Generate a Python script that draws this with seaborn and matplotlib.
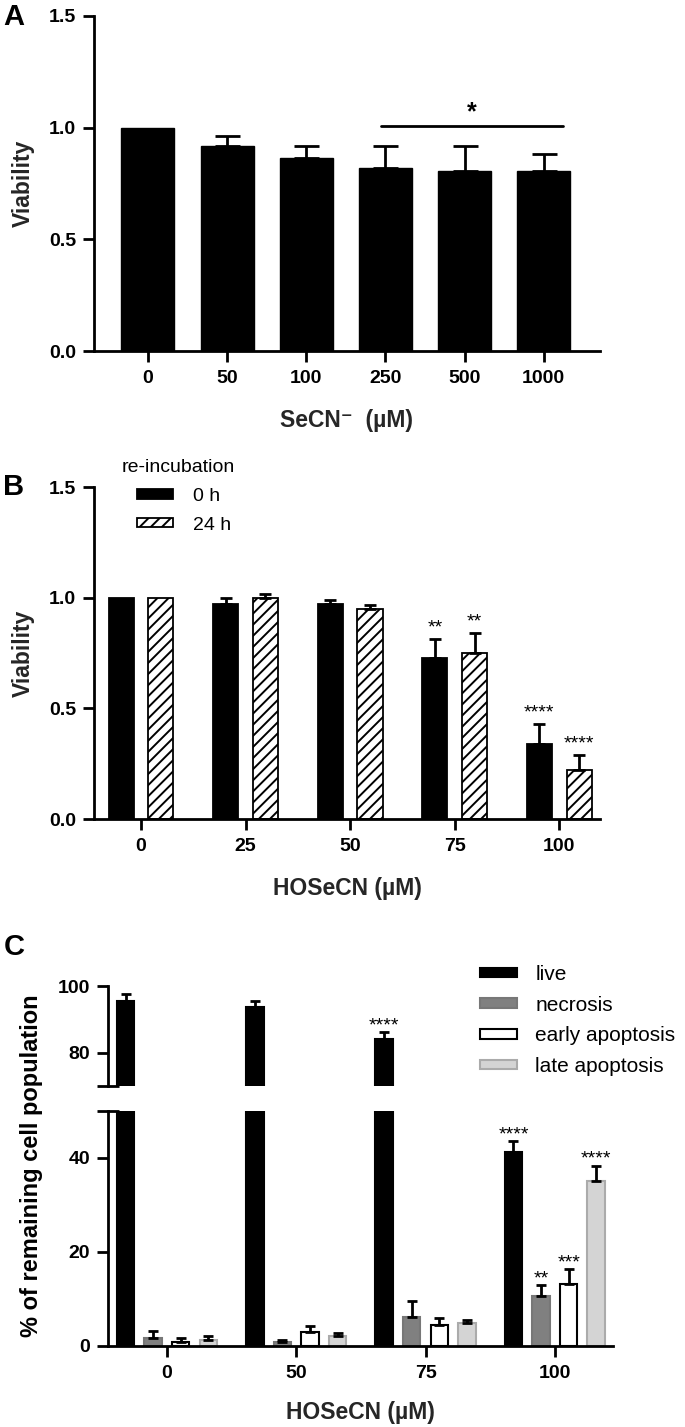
import numpy as np
import pandas as pd
import seaborn as sns
import matplotlib.pyplot as plt

# ---- data ----
# A: SeCN- viability
conc_a = ["0", "50", "100", "250", "500", "1000"]
viab_a = [1.0, 0.919, 0.862, 0.819, 0.808, 0.808]
err_a = [0.0, 0.044, 0.057, 0.099, 0.110, 0.074]

# B: HOSeCN viability, 0 h / 24 h re-incubation
conc_b = ["0", "25", "50", "75", "100"]
times_b = ["0 h", "24 h"]
viab_b_0h = [1.0, 0.970, 0.970, 0.729, 0.339]
err_b_0h = [0.0, 0.030, 0.021, 0.085, 0.090]
stars_b_0h = ["", "", "", "**", "****"]
viab_b_24h = [1.0, 1.0, 0.948, 0.748, 0.223]
err_b_24h = [0.0, 0.015, 0.019, 0.093, 0.065]
stars_b_24h = ["", "", "", "**", "****"]

# C: cell population
conc_c = ["0", "50", "75", "100"]
states_c = ["live", "necrosis", "early apoptosis", "late apoptosis"]
live = [95.5, 93.8, 84.0, 41.2]
live_err = [2.0, 1.8, 2.2, 2.4]
live_stars = ["", "", "****", "****"]
necrosis = [1.8, 0.8, 6.1, 10.7]
necrosis_err = [1.3, 0.5, 3.4, 2.3]
necrosis_stars = ["", "", "", "**"]
early = [0.9, 2.9, 4.5, 13.1]
early_err = [0.9, 1.3, 1.4, 3.3]
early_stars = ["", "", "", "***"]
late = [1.3, 2.1, 4.8, 35.1]
late_err = [0.8, 0.6, 0.8, 3.3]
late_stars = ["", "", "", "****"]

W, H = 685, 1427
sns.set_style("ticks", {"axes.edgecolor": "black", "xtick.color": "black",
                        "ytick.color": "black", "text.color": "black"})
plt.rcParams["font.family"] = ["Liberation Sans", "DejaVu Sans"]
plt.rcParams["axes.linewidth"] = 2
plt.rcParams["hatch.linewidth"] = 1.4

fig = plt.figure(figsize=(W / 100, H / 100), dpi=100)


def box(left, top, right, bottom):
    return fig.add_axes([left / W, 1 - bottom / H, (right - left) / W, (bottom - top) / H])


def style(ax):
    ax.tick_params(direction="out", length=8, width=2, labelsize=14, colors="black")
    ax.tick_params(axis="x", pad=6)
    ax.tick_params(axis="y", pad=5)
    for t in ax.get_xticklabels() + ax.get_yticklabels():
        t.set_fontweight("bold")


def add_errors(ax, bars, err, lw=2, cap=4):
    xs = np.array([p.get_x() + p.get_width() / 2 for p in bars.patches])
    ys = np.array([p.get_height() for p in bars.patches])
    err = np.array(err)
    m = err > 0
    ax.errorbar(xs[m], ys[m], yerr=[np.zeros(m.sum()), err[m]], fmt="none",
                ecolor="black", elinewidth=lw, capsize=cap, capthick=lw)
    return xs, ys + err


def add_stars(ax, xs, tops, stars, off, size=14):
    for x, y, s in zip(xs, tops, stars):
        if s:
            ax.annotate(s, (x, y), xytext=(0, off), textcoords="offset points",
                        ha="center", va="center", fontsize=size)


# ---------------- A ----------------
axA = box(94, 16, 600, 351)
dfA = pd.DataFrame({"conc": conc_a, "viability": viab_a})
sns.barplot(data=dfA, x="conc", y="viability", order=conc_a, color="black",
            saturation=1, width=0.67, errorbar=None, edgecolor="black", ax=axA)
xsA, topsA = add_errors(axA, axA.containers[0], err_a, lw=2, cap=9)
axA.set_xlim(-0.68, 5.71)
axA.set_ylim(0, 1.5)
axA.set_yticks([0, 0.5, 1.0, 1.5])
axA.set_yticklabels([f"{v:.1f}" for v in [0, 0.5, 1.0, 1.5]])
sns.despine(ax=axA)
style(axA)
# significance bar over 250-1000
sig_y = 1.007
sig_l, sig_r = xsA[3] - 0.06, xsA[5] + 0.24
axA.plot([sig_l, sig_r], [sig_y, sig_y], color="black", lw=2)
axA.annotate("*", ((sig_l + sig_r) / 2, sig_y), xytext=(0, 10),
             textcoords="offset points", ha="center", va="center",
             fontsize=18, fontweight="bold")
axA.set_ylabel("Viability", fontsize=16.5, fontweight="bold", va="center")
axA.yaxis.set_label_coords((23 - 94) / 506, 0.5)
axA.set_xlabel("SeCN\u207b  (\u00b5M)", fontsize=16.5, fontweight="bold", va="center")
axA.xaxis.set_label_coords(0.5, (351 - 420) / 335)

# ---------------- B ----------------
axB = box(94, 487, 600, 819)
dfB = pd.DataFrame({
    "conc": conc_b * 2,
    "time": [times_b[0]] * len(conc_b) + [times_b[1]] * len(conc_b),
    "viability": viab_b_0h + viab_b_24h,
})
sns.barplot(data=dfB, x="conc", y="viability", hue="time", order=conc_b,
            hue_order=times_b, palette={"0 h": "black", "24 h": "white"},
            saturation=1, width=0.76, gap=0.37, errorbar=None,
            edgecolor="black", linewidth=1.3, legend=False, ax=axB)
barsB = list(axB.containers)
for p in barsB[1].patches:
    p.set_hatch("///")
for bars, err, stars in zip(barsB, [err_b_0h, err_b_24h], [stars_b_0h, stars_b_24h]):
    xs, tops = add_errors(axB, bars, err, lw=2, cap=4)
    add_stars(axB, xs, tops, stars, off=8)
axB.set_xlim(-0.45, 4.39)
axB.set_ylim(0, 1.5)
axB.set_yticks([0, 0.5, 1.0, 1.5])
axB.set_yticklabels([f"{v:.1f}" for v in [0, 0.5, 1.0, 1.5]])
sns.despine(ax=axB)
style(axB)
axB.set_ylabel("Viability", fontsize=16.5, fontweight="bold", va="center")
axB.yaxis.set_label_coords((23 - 94) / 506, 0.5)
axB.set_xlabel("HOSeCN (\u00b5M)", fontsize=16.5, fontweight="bold", va="center")
axB.xaxis.set_label_coords(0.5, (819 - 888) / 332)
axB.legend([b.patches[0] for b in barsB], times_b, loc="upper left",
           bbox_to_anchor=(137 / W, 1 - 488 / H), bbox_transform=fig.transFigure,
           frameon=False, fontsize=14, handlelength=1.86, handleheight=0.34,
           handletextpad=1.0, labelspacing=0.6, borderpad=0, borderaxespad=0)
fig.text(122 / W, 1 - 468 / H, "re-incubation", fontsize=14, ha="left", va="center")

# ---------------- C (broken y axis) ----------------
axCu = box(108, 986, 613, 1086)
axCl = box(108, 1111, 613, 1346)
dfC = pd.DataFrame({
    "conc": conc_c * 4,
    "state": sum([[s] * len(conc_c) for s in states_c], []),
    "pct": live + necrosis + early + late,
})
fills = {"live": "black", "necrosis": "#808080", "early apoptosis": "white",
         "late apoptosis": "#d4d4d4"}
edges = ["black", "#777777", "black", "#ababab"]
errs_c = [live_err, necrosis_err, early_err, late_err]
stars_c = [live_stars, necrosis_stars, early_stars, late_stars]
barsC = None
for ax, (lo, hi) in [(axCu, (70, 100)), (axCl, (0, 50))]:
    sns.barplot(data=dfC, x="conc", y="pct", hue="state", order=conc_c,
                hue_order=states_c, palette=fills, saturation=1, width=0.853,
                gap=0.366, errorbar=None, linewidth=1.5, legend=False, ax=ax)
    bars_ax = list(ax.containers)
    for bars, ec, err, stars in zip(bars_ax, edges, errs_c, stars_c):
        for p in bars.patches:
            p.set_edgecolor(ec)
        xs, tops = add_errors(ax, bars, err, lw=2, cap=3.3)
        sel = [s if lo <= t <= hi else "" for s, t in zip(stars, tops)]
        add_stars(ax, xs, tops, sel, off=4.5)
    ax.set_xlim(-0.456, 3.45)
    barsC = bars_ax

axCu.set_ylim(70, 100)
axCu.set_yticks([80, 100])
axCu.set_yticks([70], minor=True)
sns.despine(ax=axCu, bottom=True)
axCu.tick_params(axis="x", bottom=False, labelbottom=False)
style(axCu)
axCu.tick_params(axis="y", which="minor", direction="inout", length=16, width=2)

axCl.set_ylim(0, 50)
axCl.set_yticks([0, 20, 40])
axCl.set_yticks([50], minor=True)
sns.despine(ax=axCl)
style(axCl)
axCl.tick_params(axis="y", which="minor", direction="inout", length=16, width=2)
axCl.set_ylabel("")
axCu.set_ylabel("")
axCu.set_xlabel("")
axCl.set_xlabel("HOSeCN (\u00b5M)", fontsize=16.5, fontweight="bold", va="center")
axCl.xaxis.set_label_coords(0.5, (1346 - 1412) / 235)
fig.text(32 / W, 1 - 1166 / H, "% of remaining cell population", rotation=90,
         fontsize=17, fontweight="bold", ha="center", va="center")
axCl.legend([b.patches[0] for b in barsC], states_c, loc="upper left",
            bbox_to_anchor=(480 / W, 1 - 965 / H), bbox_transform=fig.transFigure,
            frameon=False, fontsize=15, handlelength=1.78, handleheight=0.34,
            handletextpad=0.87, labelspacing=0.56, borderpad=0, borderaxespad=0)

# panel letters
for letter, y in [("A", 17), ("B", 487), ("C", 947)]:
    fig.text(14 / W, 1 - y / H, letter, fontsize=21, fontweight="bold",
             ha="center", va="center")

fig.savefig("out.png", dpi=100)
